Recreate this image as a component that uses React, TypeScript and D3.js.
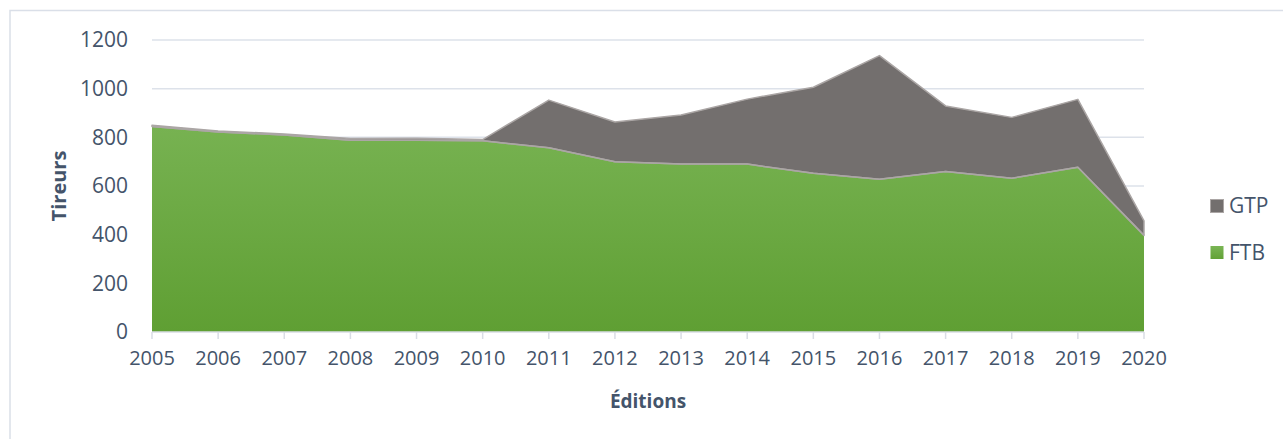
import React from "react";
import * as d3 from "d3";

const years = ["2005","2006","2007","2008","2009","2010","2011","2012","2013","2014","2015","2016","2017","2018","2019","2020"];
const ftb = [845, 822, 810, 788, 788, 786, 757, 700, 690, 690, 652, 628, 660, 632, 677, 397];
const gtp = [5, 4, 4, 7, 8, 5, 196, 163, 202, 267, 354, 508, 269, 250, 279, 60];
const yTicks = [0, 200, 400, 600, 800, 1000, 1200];
const seriesKeys = ["FTB", "GTP"];
const legendItems = ["GTP", "FTB"];

const W = 1283, H = 439;
const left = 152, right = 1144, top = 40, bottom = 332;
const textColor = "#44546a";
const font = "'Open Sans', sans-serif";

export default function App() {
  const x = d3.scalePoint<string>().domain(years).range([left, right]);
  const y = d3.scaleLinear().domain([0, 1200]).range([bottom, top]);
  const rows = years.map((yr, i) => ({ year: yr, FTB: ftb[i], GTP: gtp[i] }));
  const stacked = d3.stack<any>().keys(seriesKeys)(rows);
  const area = d3.area<any>()
    .x((d) => x(d.data.year)!)
    .y0((d) => y(d[0]))
    .y1((d) => y(d[1]));
  const topLine = d3.line<any>().x((d) => x(d.data.year)!).y((d) => y(d[1]));
  const ftbS = stacked[0];
  const gtpS = stacked[1];

  return (
    <svg width={W} height={H} style={{ position: "absolute", left: 0, top: 0, background: "#fff" }}>
      <defs>
        <linearGradient id="gGreen" x1="0" y1={top} x2="0" y2={bottom} gradientUnits="userSpaceOnUse">
          <stop offset="0" stopColor="#81ba5e" />
          <stop offset="1" stopColor="#5f9f33" />
        </linearGradient>
        <linearGradient id="gLeg" x1="0" y1="0" x2="0" y2="1">
          <stop offset="0" stopColor="#7ab555" />
          <stop offset="1" stopColor="#62a236" />
        </linearGradient>
      </defs>
      <rect x={10} y={10.5} width={W + 20} height={H + 20} fill="#fff" stroke="#dadfe8" strokeWidth={1.5} />
      {yTicks.map((t) => (
        <g key={t}>
          {t > 0 && <line x1={left} x2={right} y1={y(t)} y2={y(t)} stroke="#dde2ea" strokeWidth={1.5} />}
          <text x={128} y={y(t)} dy="0.35em" textAnchor="end" fontFamily={font} fontSize={21} fill={textColor}>{t}</text>
        </g>
      ))}
      <path d={area(ftbS) || ""} fill="url(#gGreen)" />
      <path d={area(gtpS) || ""} fill="#736f6e" />
      <path d={area(gtpS) || ""} fill="none" stroke="#aba6a5" strokeWidth={1.5} strokeLinejoin="round" />
      <path d={topLine(ftbS) || ""} fill="none" stroke="#aba6a5" strokeWidth={1.5} strokeLinejoin="round" />
      <line x1={left} x2={right} y1={bottom} y2={bottom} stroke="#d9dde5" strokeWidth={1.5} />
      {years.map((yr) => (
        <g key={yr}>
          <line x1={x(yr)} x2={x(yr)} y1={bottom} y2={bottom + 7} stroke="#d9dde5" strokeWidth={1.5} />
          <text x={x(yr)} y={358} dy="0.35em" textAnchor="middle" fontFamily={font} fontSize={20} fill={textColor}>{yr}</text>
        </g>
      ))}
      <text x={(left + right) / 2} y={401} dy="0.35em" textAnchor="middle" fontFamily={font} fontSize={19} fontWeight="bold" fill={textColor}>Éditions</text>
      <text transform={`translate(59,${(top + bottom) / 2}) rotate(-90)`} dy="0.35em" textAnchor="middle" fontFamily={font} fontSize={20} fontWeight="bold" fill={textColor}>Tireurs</text>
      {legendItems.map((k, i) => (
        <g key={k} transform={`translate(1210,${199 + i * 46.5})`}>
          <rect x={0.5} y={0.5} width={13} height={13} fill={k === "GTP" ? "#736f6e" : "url(#gLeg)"} stroke={k === "GTP" ? "#aba6a5" : "none"} strokeWidth={1} />
          <text x={19} y={7} dy="0.35em" fontFamily={font} fontSize={21} fill={textColor}>{k}</text>
        </g>
      ))}
    </svg>
  );
}
